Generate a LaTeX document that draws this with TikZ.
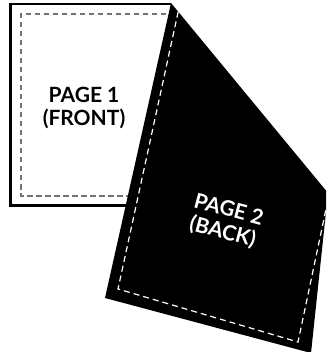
\documentclass[tikz,border=0pt]{standalone}
\usepackage{fontspec}
\setmainfont{Lato}[UprightFont=* Bold]
\begin{document}
\begin{tikzpicture}[x=1pt,y=-1pt]
\tikzset{
  pageborder/.style={draw=black, line width=2.7pt, line join=miter},
  graydash/.style={draw=black!55, line width=1.3pt, dash pattern=on 5.5pt off 3.5pt},
  whitedash/.style={draw=white, line width=1.2pt, dash pattern=on 6pt off 4pt},
  pagelabel/.style={align=center, font=\fontsize{21}{23}\selectfont, inner sep=0pt}
}
\useasboundingbox (0,0) rectangle (326,352);
\clip (0,0) rectangle (326,352);
% page 1 (front)
\fill[white] (10.5,4) rectangle (171,205.5);
\draw[graydash] (175,14) -- (21,14) -- (21,196) -- (175,196);
\draw[pageborder] (150,205.5) -- (10.5,205.5) -- (10.5,4) -- (171,4);
\node[pagelabel, text=black] (p1) at (84,108) {PAGE 1\\(FRONT)};
% page 2 (back)
\coordinate (t) at (171,3);
\coordinate (r) at (328,193);
\coordinate (br) at (311,353);
\coordinate (bl) at (105,298);
\fill[black] (t) -- (r) -- (br) -- (bl) -- cycle;
\coordinate (d0) at (178.2,11.7);
\coordinate (d1) at (118,289);
\coordinate (d2) at (298,342);
\coordinate (d3) at (330,190);
\draw[whitedash] (d0) -- (d1) -- (d2) -- (d3);
\node[pagelabel, text=white, rotate=-15] (p2) at (225.5,221.5) {PAGE 2\\(BACK)};
\end{tikzpicture}
\end{document}
